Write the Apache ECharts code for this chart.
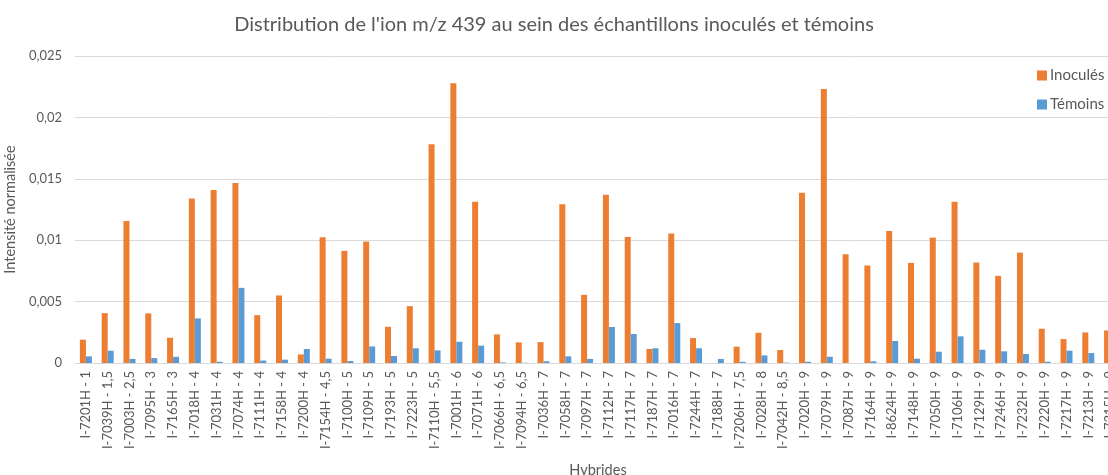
<!DOCTYPE html>
<html>
<head>
<meta charset="utf-8">
<script src="https://cdn.jsdelivr.net/npm/echarts@6/dist/echarts.min.js"></script>
<style>
  html, body { margin: 0; padding: 0; overflow: hidden; background: #fff; }
  #chart { width: 1108px; height: 475px; }
</style>
</head>
<body>
<div id="chart"></div>
<script>
// hybrides (nom - note)
const hybrides = [
  'I-7201H - 1', 'I-7039H - 1,5', 'I-7003H - 2,5', 'I-7095H - 3', 'I-7165H - 3',
  'I-7018H - 4', 'I-7031H - 4', 'I-7074H - 4', 'I-7111H - 4', 'I-7158H - 4',
  'I-7200H - 4', 'I-7154H - 4,5', 'I-7100H - 5', 'I-7109H - 5', 'I-7193H - 5',
  'I-7223H - 5', 'I-7110H - 5,5', 'I-7001H - 6', 'I-7071H - 6', 'I-7066H - 6,5',
  'I-7094H - 6,5', 'I-7036H - 7', 'I-7058H - 7', 'I-7097H - 7', 'I-7112H - 7',
  'I-7117H - 7', 'I-7187H - 7', 'I-7016H - 7', 'I-7244H - 7', 'I-7188H - 7',
  'I-7206H - 7,5', 'I-7028H - 8', 'I-7042H - 8,5', 'I-7020H - 9', 'I-7079H - 9',
  'I-7087H - 9', 'I-7164H - 9', 'I-8624H - 9', 'I-7148H - 9', 'I-7050H - 9',
  'I-7106H - 9', 'I-7129H - 9', 'I-7246H - 9', 'I-7232H - 9', 'I-7220H - 9',
  'I-7217H - 9', 'I-7213H - 9', 'I-7215H - 9'
];

const inocules = [
  0.0019, 0.00406, 0.01157, 0.00404, 0.00206, 0.0134, 0.01408, 0.01465, 0.0039, 0.0055,
  0.0007, 0.01024, 0.00913, 0.00989, 0.00295, 0.00463, 0.01782, 0.02278, 0.01314, 0.00233,
  0.00168, 0.0017, 0.01292, 0.00555, 0.0137, 0.01027, 0.00114, 0.01054, 0.00203, 0,
  0.00133, 0.00246, 0.00106, 0.01387, 0.02232, 0.00886, 0.00794, 0.01075, 0.00815, 0.01021,
  0.01314, 0.00818, 0.0071, 0.00899, 0.00279, 0.00195, 0.00249, 0.00265
];

const temoins = [
  0.00054, 0.001, 0.00033, 0.0004, 0.0005, 0.00363, 0.0001, 0.00612, 0.0002, 0.00027,
  0.00114, 0.00035, 0.00016, 0.00135, 0.00057, 0.0012, 0.00103, 0.00173, 0.00141, 0.00005,
  0.00002, 0.00014, 0.00054, 0.00033, 0.00293, 0.00236, 0.0012, 0.00325, 0.0012, 0.00033,
  0.0001, 0.00062, 0.00003, 0.0001, 0.00051, 0, 0.00014, 0.00179, 0.00035, 0.00092,
  0.00217, 0.00108, 0.00095, 0.00073, 0.0001, 0.001, 0.00081, null
];

const font = 'Lato, "Open Sans", sans-serif';
const grey = '#595959';

const chart = echarts.init(document.getElementById('chart'));

chart.setOption({
  animation: false,
  textStyle: { fontFamily: font },
  title: {
    text: "Distribution de l'ion m/z 439 au sein des échantillons inoculés et témoins",
    left: 'center',
    top: 10,
    textStyle: { fontFamily: font, fontSize: 20, fontWeight: 'normal', color: grey }
  },
  legend: {
    orient: 'vertical',
    left: 1032,
    top: 63,
    itemWidth: 10,
    itemHeight: 10,
    itemGap: 14,
    icon: 'rect',
    textStyle: { fontFamily: font, fontSize: 15, color: grey, padding: [0, 0, 0, -2] }
  },
  grid: { left: 75, top: 56, width: 1046, height: 307, outerBoundsMode: 'none', containLabel: false },
  xAxis: {
    type: 'category',
    data: hybrides,
    name: 'Hybrides',
    nameLocation: 'middle',
    nameGap: 100,
    nameTextStyle: { fontSize: 14.5, color: grey },
    axisLine: { lineStyle: { color: '#d9d9d9', width: 1 } },
    axisTick: { show: false },
    axisLabel: { rotate: 90, interval: 0, margin: 8, fontSize: 13, color: grey }
  },
  yAxis: {
    type: 'value',
    min: 0,
    max: 0.025,
    interval: 0.005,
    name: 'Intensité normalisée',
    nameLocation: 'middle',
    nameGap: 53,
    nameTextStyle: { fontSize: 14.5, color: grey },
    axisLine: { show: false },
    axisTick: { show: false },
    splitLine: { lineStyle: { color: '#d9d9d9', width: 1 } },
    axisLabel: {
      margin: 13,
      fontSize: 13,
      color: grey,
      formatter: v => String(+v.toFixed(3)).replace('.', ',')
    }
  },
  series: [
    {
      name: 'Inoculés',
      type: 'bar',
      data: inocules,
      barWidth: 6,
      barGap: '0%',
      itemStyle: { color: '#ed7d31' }
    },
    {
      name: 'Témoins',
      type: 'bar',
      data: temoins,
      barWidth: 6,
      barGap: '0%',
      itemStyle: { color: '#5b9bd5' }
    }
  ]
});
</script>
</body>
</html>
